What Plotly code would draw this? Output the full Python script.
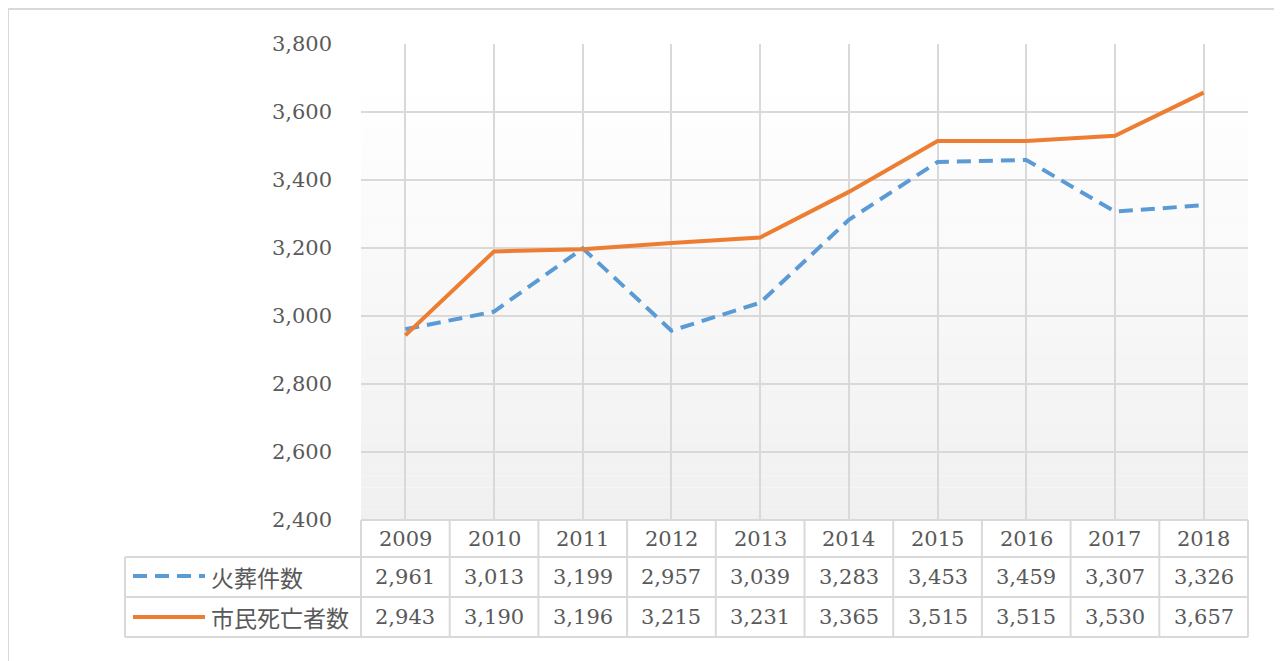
import plotly.graph_objects as go

years = ["2009", "2010", "2011", "2012", "2013", "2014", "2015", "2016", "2017", "2018"]
series_names = ["火葬件数", "市民死亡者数"]
cremations = [2961, 3013, 3199, 2957, 3039, 3283, 3453, 3459, 3307, 3326]
deaths = [2943, 3190, 3196, 3215, 3231, 3365, 3515, 3515, 3530, 3657]
y_ticks = [2400, 2600, 2800, 3000, 3200, 3400, 3600, 3800]

OFF = 8  # page body margin
W, H = 1282 - OFF, 661 - OFF
L, R, T, B = 361 - OFF, 1248 - OFF, 44 - OFF, 520 - OFF  # plot area pixels in figure
pw, ph = R - L, B - T

def px(X):  # X in reference screen pixels
    return (X - OFF - L) / pw

def py(Y):
    return (B - (Y - OFF)) / ph

BLUE = "#5B9BD5"
ORANGE = "#ED7D31"
GRID = "#D9D9D9"
TXT = "#595959"
SERIF = "DejaVu Serif, Liberation Serif, serif"
CJK = "Noto Sans CJK JP, Noto Sans, sans-serif"
FS = 21
FS_CJK = 23
DASH = "14px,8px"

fig = go.Figure()
fig.add_trace(go.Scatter(x=years, y=cremations, mode="lines", name=series_names[0],
                         line=dict(color=BLUE, width=4, dash=DASH)))
fig.add_trace(go.Scatter(x=years, y=deaths, mode="lines", name=series_names[1],
                         line=dict(color=ORANGE, width=4)))

shapes = []
# outer chart border
shapes.append(dict(type="rect", xref="paper", yref="paper", x0=px(8), x1=px(1277), y0=py(690), y1=py(9),
                   line=dict(color="#D9D9D9", width=2), layer="below"))
# gradient background of plot area
g_top, g_bot = 85, 520
n = 40
for i in range(n):
    y0 = g_top + (g_bot - g_top) * i / n
    y1 = g_top + (g_bot - g_top) * (i + 1) / n
    t = (i + 0.5) / n
    c = int(round(255 - (255 - 240) * t))
    shapes.append(dict(type="rect", xref="paper", yref="paper", x0=0, x1=1, y0=py(y1), y1=py(y0),
                       fillcolor=f"rgb({c},{c},{c})", line=dict(width=0), layer="below"))

# data table grid
ncol = len(years)
cw = (1248 - 361) / ncol
row_y = [520, 557, 597, 637]
leg_x = 125
for Y in row_y[1:]:
    shapes.append(dict(type="line", xref="paper", yref="paper", x0=px(leg_x), x1=px(1248), y0=py(Y), y1=py(Y),
                       line=dict(color=GRID, width=2), layer="above"))
shapes.append(dict(type="line", xref="paper", yref="paper", x0=px(361), x1=px(1248), y0=py(520), y1=py(520),
                   line=dict(color=GRID, width=2), layer="above"))
shapes.append(dict(type="line", xref="paper", yref="paper", x0=px(leg_x), x1=px(leg_x), y0=py(557), y1=py(637),
                   line=dict(color=GRID, width=2), layer="above"))
for k in range(ncol + 1):
    X = 361 + k * cw
    shapes.append(dict(type="line", xref="paper", yref="paper", x0=px(X), x1=px(X), y0=py(520), y1=py(637),
                       line=dict(color=GRID, width=2), layer="above"))
# legend keys
shapes.append(dict(type="line", xref="paper", yref="paper", x0=px(133), x1=px(205), y0=py(576), y1=py(576),
                   line=dict(color=BLUE, width=4, dash=DASH), layer="above"))
shapes.append(dict(type="line", xref="paper", yref="paper", x0=px(133), x1=px(205), y0=py(617), y1=py(617),
                   line=dict(color=ORANGE, width=4), layer="above"))

annotations = []
row_centers = [539, 577, 617]
for i, yr in enumerate(years):
    xc = px(361 + (i + 0.5) * cw)
    for txt, yc in ((yr, row_centers[0]), (f"{cremations[i]:,}", row_centers[1]), (f"{deaths[i]:,}", row_centers[2])):
        annotations.append(dict(x=xc, xref="paper", y=py(yc), yref="paper", text=txt, showarrow=False,
                                font=dict(family=SERIF, size=FS, color=TXT), xanchor="center", yanchor="middle"))
for name, yc in zip(series_names, row_centers[1:]):
    annotations.append(dict(x=px(209), xref="paper", y=py(yc), yref="paper", text=name, showarrow=False,
                            font=dict(family=CJK, size=FS_CJK, color=TXT), xanchor="left", yanchor="middle"))

fig.update_layout(
    width=W, height=H,
    margin=dict(l=L, r=W - R, t=T, b=H - B, pad=0),
    paper_bgcolor="white", plot_bgcolor="white",
    showlegend=False,
    shapes=shapes, annotations=annotations,
    xaxis=dict(type="category", range=[-0.5, ncol - 0.5], showticklabels=False, showgrid=True,
               gridcolor=GRID, gridwidth=1.5, zeroline=False, showline=False, ticks=""),
    yaxis=dict(range=[2400, 3800], tickvals=y_ticks, tickformat=",d", showgrid=True, gridcolor=GRID,
               gridwidth=1.5, zeroline=False, showline=False, ticks="", ticklabelstandoff=28,
               tickfont=dict(family=SERIF, size=FS, color=TXT)),
)

fig.write_html("out.html")
